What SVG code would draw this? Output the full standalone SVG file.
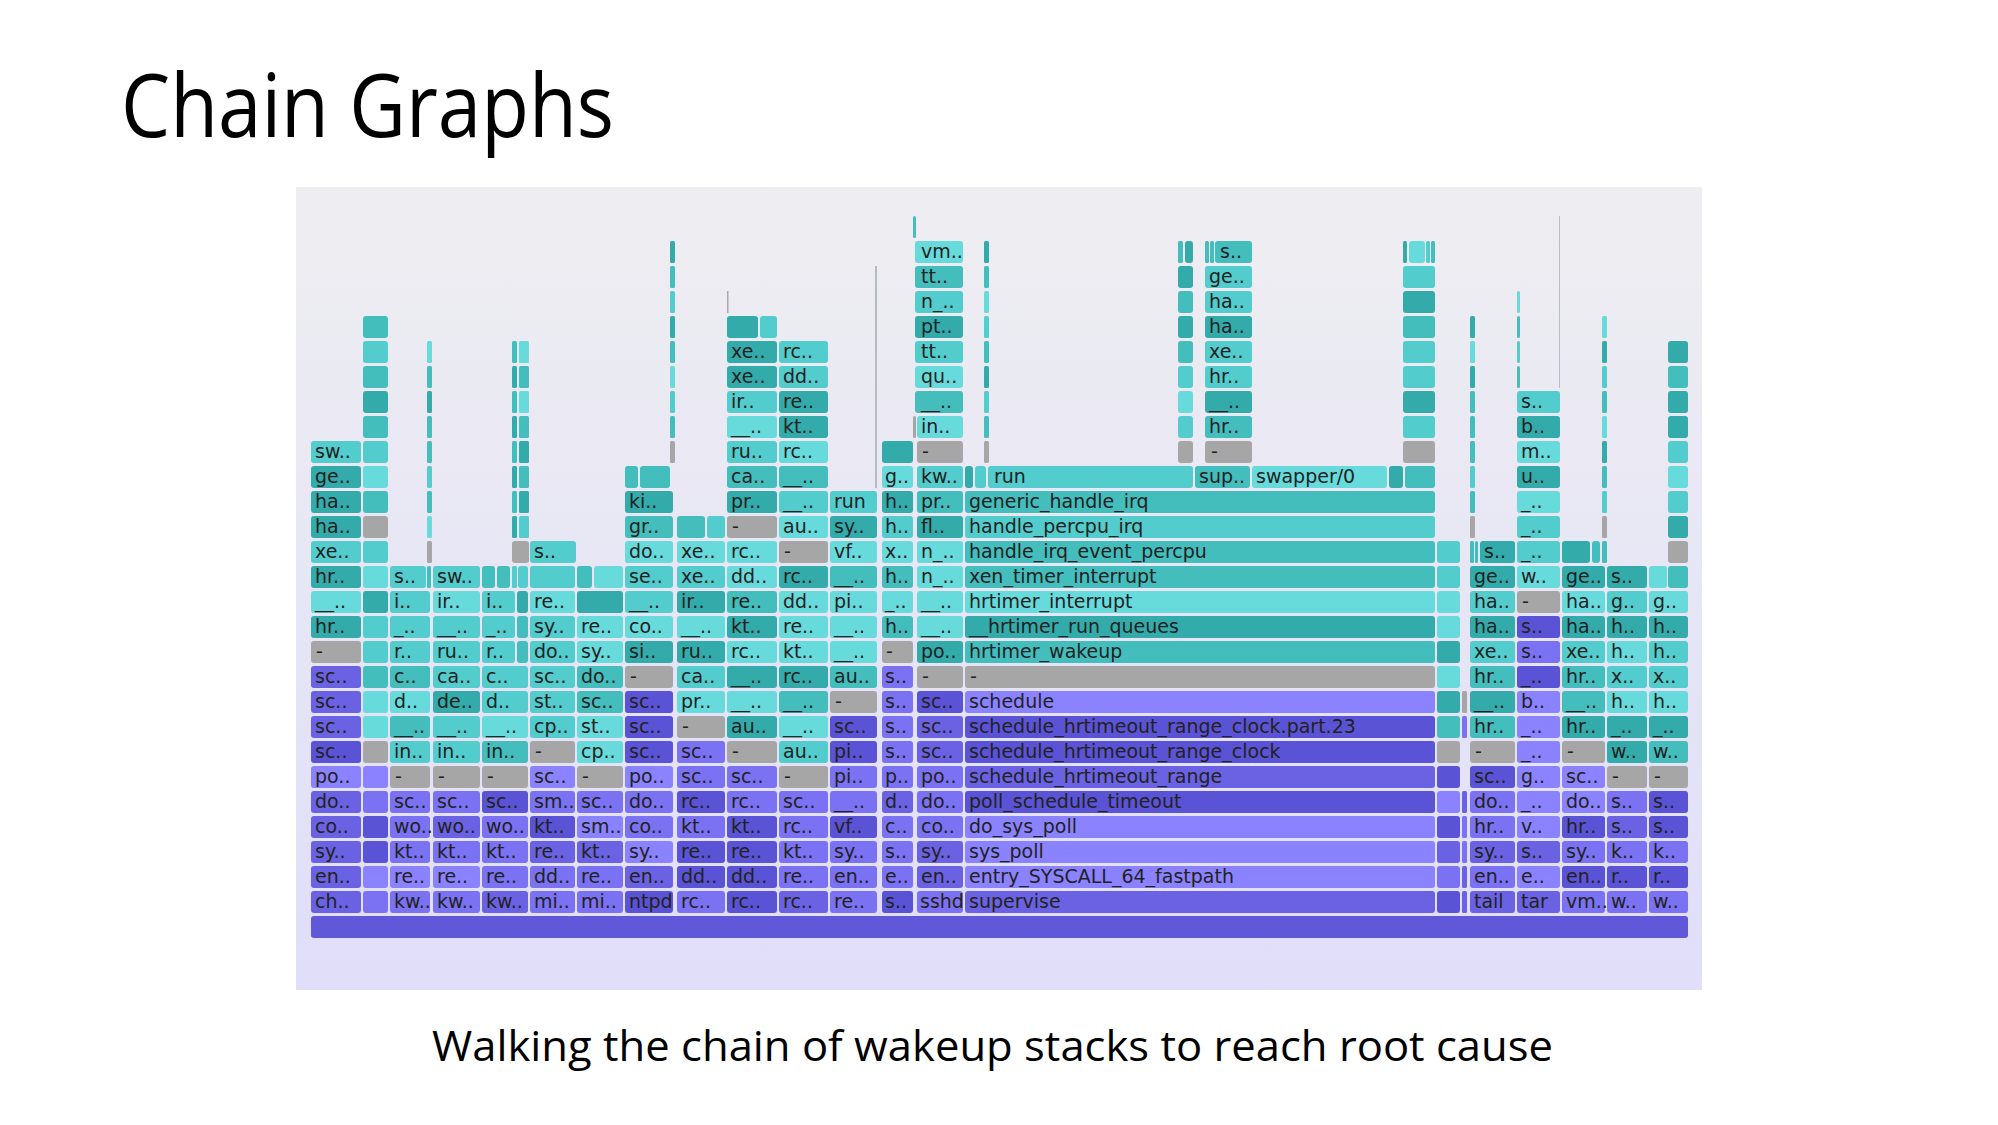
<svg xmlns="http://www.w3.org/2000/svg" width="1998" height="1125" viewBox="0 0 1998 1125">
<defs>
<linearGradient id="bg" x1="0" y1="0" x2="0" y2="1">
<stop offset="0" stop-color="#eeeef1"/>
<stop offset="1" stop-color="#e0def9"/>
</linearGradient>
</defs>
<style>
rect{rx:3px;ry:3px}
.a{fill:#67dbdb}.b{fill:#52cccc}.c{fill:#44bdbd}.d{fill:#33abab}.g{fill:#a6a6a6}
.p{fill:#8a82ff}.q{fill:#7a72f2}.r{fill:#6a62e2}.s{fill:#5b53d6}.z{fill:#6058d8}
.th{rx:1.5px;ry:1.5px}
text.t{font-family:"DejaVu Sans",Verdana,sans-serif;font-size:19px;fill:#222}
.title{font-family:"Open Sans","Liberation Sans",sans-serif;fill:#000}
</style>
<rect x="0" y="0" width="1998" height="1125" fill="#fff" style="rx:0"/>
<text class="title" x="121" y="137" font-size="88" textLength="493" lengthAdjust="spacingAndGlyphs">Chain Graphs</text>
<rect x="296" y="187" width="1406" height="803" fill="url(#bg)" style="rx:0"/>
<g id="flamegraph">
<g id="root"><rect class="z" x="311" y="916" width="1377" height="22"/></g>
<g id="col1">
<rect class="r" x="311" y="891" width="50" height="22"/><text class="t" x="315" y="907.5">ch..</text>
<rect class="r" x="311" y="866" width="50" height="22"/><text class="t" x="315" y="882.5">en..</text>
<rect class="r" x="311" y="841" width="50" height="22"/><text class="t" x="315" y="857.5">sy..</text>
<rect class="r" x="311" y="816" width="50" height="22"/><text class="t" x="315" y="832.5">co..</text>
<rect class="r" x="311" y="791" width="50" height="22"/><text class="t" x="315" y="807.5">do..</text>
<rect class="p" x="311" y="766" width="50" height="22"/><text class="t" x="315" y="782.5">po..</text>
<rect class="s" x="311" y="741" width="50" height="22"/><text class="t" x="315" y="757.5">sc..</text>
<rect class="r" x="311" y="716" width="50" height="22"/><text class="t" x="315" y="732.5">sc..</text>
<rect class="r" x="311" y="691" width="50" height="22"/><text class="t" x="315" y="707.5">sc..</text>
<rect class="r" x="311" y="666" width="50" height="22"/><text class="t" x="315" y="682.5">sc..</text>
<rect class="g" x="311" y="641" width="50" height="22"/><text class="t" x="316" y="657.5">-</text>
<rect class="d" x="311" y="616" width="50" height="22"/><text class="t" x="315" y="632.5">hr..</text>
<rect class="a" x="311" y="591" width="50" height="22"/><text class="t" x="315" y="607.5">__..</text>
<rect class="d" x="311" y="566" width="50" height="22"/><text class="t" x="315" y="582.5">hr..</text>
<rect class="b" x="311" y="541" width="50" height="22"/><text class="t" x="315" y="557.5">xe..</text>
<rect class="d" x="311" y="516" width="50" height="22"/><text class="t" x="315" y="532.5">ha..</text>
<rect class="d" x="311" y="491" width="50" height="22"/><text class="t" x="315" y="507.5">ha..</text>
<rect class="d" x="311" y="466" width="50" height="22"/><text class="t" x="315" y="482.5">ge..</text>
<rect class="b" x="311" y="441" width="50" height="22"/><text class="t" x="315" y="457.5">sw..</text>
</g>
<g id="col2">
<rect class="q" x="363" y="891" width="25" height="22"/><rect class="p" x="363" y="866" width="25" height="22"/>
<rect class="s" x="363" y="841" width="25" height="22"/><rect class="s" x="363" y="816" width="25" height="22"/>
<rect class="q" x="363" y="791" width="25" height="22"/><rect class="p" x="363" y="766" width="25" height="22"/>
<rect class="g" x="363" y="741" width="25" height="22"/><rect class="a" x="363" y="716" width="25" height="22"/>
<rect class="a" x="363" y="691" width="25" height="22"/><rect class="c" x="363" y="666" width="25" height="22"/>
<rect class="b" x="363" y="641" width="25" height="22"/><rect class="b" x="363" y="616" width="25" height="22"/>
<rect class="d" x="363" y="591" width="25" height="22"/><rect class="a" x="363" y="566" width="25" height="22"/>
<rect class="b" x="363" y="541" width="25" height="22"/><rect class="g" x="363" y="516" width="25" height="22"/>
<rect class="c" x="363" y="491" width="25" height="22"/><rect class="a" x="363" y="466" width="25" height="22"/>
<rect class="b" x="363" y="441" width="25" height="22"/><rect class="c" x="363" y="416" width="25" height="22"/>
<rect class="d" x="363" y="391" width="25" height="22"/><rect class="c" x="363" y="366" width="25" height="22"/>
<rect class="b" x="363" y="341" width="25" height="22"/><rect class="c" x="363" y="316" width="25" height="22"/>
</g>
<g id="col3">
<rect class="q" x="390" y="891" width="40" height="22"/><text class="t" x="394" y="907.5">kw..</text>
<rect class="p" x="390" y="866" width="40" height="22"/><text class="t" x="394" y="882.5">re..</text>
<rect class="q" x="390" y="841" width="40" height="22"/><text class="t" x="394" y="857.5">kt..</text>
<rect class="q" x="390" y="816" width="40" height="22"/><text class="t" x="394" y="832.5">wo..</text>
<rect class="q" x="390" y="791" width="40" height="22"/><text class="t" x="394" y="807.5">sc..</text>
<rect class="g" x="390" y="766" width="40" height="22"/><text class="t" x="395" y="782.5">-</text>
<rect class="b" x="390" y="741" width="40" height="22"/><text class="t" x="394" y="757.5">in..</text>
<rect class="c" x="390" y="716" width="40" height="22"/><text class="t" x="394" y="732.5">__..</text>
<rect class="a" x="390" y="691" width="40" height="22"/><text class="t" x="394" y="707.5">d..</text>
<rect class="c" x="390" y="666" width="40" height="22"/><text class="t" x="394" y="682.5">c..</text>
<rect class="b" x="390" y="641" width="40" height="22"/><text class="t" x="394" y="657.5">r..</text>
<rect class="b" x="390" y="616" width="40" height="22"/><text class="t" x="394" y="632.5">_..</text>
<rect class="b" x="390" y="591" width="40" height="22"/><text class="t" x="394" y="607.5">i..</text>
<rect class="b" x="390" y="566" width="36" height="22"/><text class="t" x="394" y="582.5">s..</text>
<rect class="c th" x="427" y="566" width="4" height="22"/>
<rect class="g th" x="427" y="541" width="5" height="22"/><rect class="a th" x="427" y="516" width="5" height="22"/>
<rect class="c th" x="427" y="491" width="5" height="22"/><rect class="b th" x="427" y="466" width="5" height="22"/>
<rect class="c th" x="427" y="441" width="5" height="22"/><rect class="c th" x="427" y="416" width="5" height="22"/>
<rect class="d th" x="427" y="391" width="5" height="22"/><rect class="c th" x="427" y="366" width="5" height="22"/>
<rect class="a th" x="427" y="341" width="5" height="22"/>
</g>
<g id="col4">
<rect class="q" x="433" y="891" width="47" height="22"/><text class="t" x="437" y="907.5">kw..</text>
<rect class="p" x="433" y="866" width="47" height="22"/><text class="t" x="437" y="882.5">re..</text>
<rect class="q" x="433" y="841" width="47" height="22"/><text class="t" x="437" y="857.5">kt..</text>
<rect class="r" x="433" y="816" width="47" height="22"/><text class="t" x="437" y="832.5">wo..</text>
<rect class="q" x="433" y="791" width="47" height="22"/><text class="t" x="437" y="807.5">sc..</text>
<rect class="g" x="433" y="766" width="47" height="22"/><text class="t" x="438" y="782.5">-</text>
<rect class="b" x="433" y="741" width="47" height="22"/><text class="t" x="437" y="757.5">in..</text>
<rect class="b" x="433" y="716" width="47" height="22"/><text class="t" x="437" y="732.5">__..</text>
<rect class="d" x="433" y="691" width="47" height="22"/><text class="t" x="437" y="707.5">de..</text>
<rect class="b" x="433" y="666" width="47" height="22"/><text class="t" x="437" y="682.5">ca..</text>
<rect class="b" x="433" y="641" width="47" height="22"/><text class="t" x="437" y="657.5">ru..</text>
<rect class="b" x="433" y="616" width="47" height="22"/><text class="t" x="437" y="632.5">__..</text>
<rect class="a" x="433" y="591" width="47" height="22"/><text class="t" x="437" y="607.5">ir..</text>
<rect class="b" x="433" y="566" width="47" height="22"/><text class="t" x="437" y="582.5">sw..</text>
</g>
<g id="col5">
<rect class="r" x="482" y="891" width="46" height="22"/><text class="t" x="486" y="907.5">kw..</text>
<rect class="q" x="482" y="866" width="46" height="22"/><text class="t" x="486" y="882.5">re..</text>
<rect class="q" x="482" y="841" width="46" height="22"/><text class="t" x="486" y="857.5">kt..</text>
<rect class="q" x="482" y="816" width="46" height="22"/><text class="t" x="486" y="832.5">wo..</text>
<rect class="s" x="482" y="791" width="46" height="22"/><text class="t" x="486" y="807.5">sc..</text>
<rect class="g" x="482" y="766" width="46" height="22"/><text class="t" x="487" y="782.5">-</text>
<rect class="c" x="482" y="741" width="46" height="22"/><text class="t" x="486" y="757.5">in..</text>
<rect class="a" x="482" y="716" width="46" height="22"/><text class="t" x="486" y="732.5">__..</text>
<rect class="b" x="482" y="691" width="46" height="22"/><text class="t" x="486" y="707.5">d..</text>
<rect class="b" x="482" y="666" width="46" height="22"/><text class="t" x="486" y="682.5">c..</text>
<rect class="b" x="482" y="641" width="33" height="22"/><text class="t" x="486" y="657.5">r..</text><rect class="c" x="517" y="641" width="11" height="22"/>
<rect class="b" x="482" y="616" width="33" height="22"/><text class="t" x="486" y="632.5">_..</text><rect class="c" x="517" y="616" width="11" height="22"/>
<rect class="b" x="482" y="591" width="33" height="22"/><text class="t" x="486" y="607.5">i..</text><rect class="d" x="517" y="591" width="11" height="22"/>
<rect class="c" x="482" y="566" width="13" height="22"/><rect class="c" x="497" y="566" width="13" height="22"/>
<rect class="b th" x="512" y="566" width="5" height="22"/><rect class="b" x="518" y="566" width="10" height="22"/>
<rect class="g" x="512" y="541" width="17" height="22"/>
<rect class="d th" x="512" y="516" width="5" height="22"/><rect class="b th" x="519" y="516" width="10" height="22"/>
<rect class="c th" x="512" y="491" width="5" height="22"/><rect class="d th" x="519" y="491" width="10" height="22"/>
<rect class="d th" x="512" y="466" width="5" height="22"/><rect class="c th" x="519" y="466" width="10" height="22"/>
<rect class="c th" x="512" y="441" width="5" height="22"/><rect class="d th" x="519" y="441" width="10" height="22"/>
<rect class="d th" x="512" y="416" width="5" height="22"/><rect class="c th" x="519" y="416" width="10" height="22"/>
<rect class="c th" x="512" y="391" width="5" height="22"/><rect class="a th" x="519" y="391" width="10" height="22"/>
<rect class="d th" x="512" y="366" width="5" height="22"/><rect class="c th" x="519" y="366" width="10" height="22"/>
<rect class="c th" x="512" y="341" width="5" height="22"/><rect class="a th" x="519" y="341" width="10" height="22"/>
</g>
<g id="col6">
<rect class="q" x="530" y="891" width="45" height="22"/><text class="t" x="534" y="907.5">mi..</text>
<rect class="q" x="530" y="866" width="45" height="22"/><text class="t" x="534" y="882.5">dd..</text>
<rect class="r" x="530" y="841" width="45" height="22"/><text class="t" x="534" y="857.5">re..</text>
<rect class="s" x="530" y="816" width="45" height="22"/><text class="t" x="534" y="832.5">kt..</text>
<rect class="q" x="530" y="791" width="45" height="22"/><text class="t" x="534" y="807.5">sm..</text>
<rect class="p" x="530" y="766" width="45" height="22"/><text class="t" x="534" y="782.5">sc..</text>
<rect class="g" x="530" y="741" width="45" height="22"/><text class="t" x="535" y="757.5">-</text>
<rect class="b" x="530" y="716" width="45" height="22"/><text class="t" x="534" y="732.5">cp..</text>
<rect class="b" x="530" y="691" width="45" height="22"/><text class="t" x="534" y="707.5">st..</text>
<rect class="b" x="530" y="666" width="45" height="22"/><text class="t" x="534" y="682.5">sc..</text>
<rect class="b" x="530" y="641" width="45" height="22"/><text class="t" x="534" y="657.5">do..</text>
<rect class="b" x="530" y="616" width="45" height="22"/><text class="t" x="534" y="632.5">sy..</text>
<rect class="a" x="530" y="591" width="45" height="22"/><text class="t" x="534" y="607.5">re..</text>
<rect class="b" x="530" y="566" width="45" height="22"/>
<rect class="b" x="530" y="541" width="46" height="22"/><text class="t" x="534" y="557.5">s..</text>
</g>
<g id="col7">
<rect class="q" x="577" y="891" width="46" height="22"/><text class="t" x="581" y="907.5">mi..</text>
<rect class="q" x="577" y="866" width="46" height="22"/><text class="t" x="581" y="882.5">re..</text>
<rect class="r" x="577" y="841" width="46" height="22"/><text class="t" x="581" y="857.5">kt..</text>
<rect class="p" x="577" y="816" width="46" height="22"/><text class="t" x="581" y="832.5">sm..</text>
<rect class="q" x="577" y="791" width="46" height="22"/><text class="t" x="581" y="807.5">sc..</text>
<rect class="g" x="577" y="766" width="46" height="22"/><text class="t" x="582" y="782.5">-</text>
<rect class="a" x="577" y="741" width="46" height="22"/><text class="t" x="581" y="757.5">cp..</text>
<rect class="a" x="577" y="716" width="46" height="22"/><text class="t" x="581" y="732.5">st..</text>
<rect class="c" x="577" y="691" width="46" height="22"/><text class="t" x="581" y="707.5">sc..</text>
<rect class="c" x="577" y="666" width="46" height="22"/><text class="t" x="581" y="682.5">do..</text>
<rect class="a" x="577" y="641" width="46" height="22"/><text class="t" x="581" y="657.5">sy..</text>
<rect class="a" x="577" y="616" width="46" height="22"/><text class="t" x="581" y="632.5">re..</text>
<rect class="d" x="577" y="591" width="46" height="22"/>
<rect class="c" x="577" y="566" width="15" height="22"/><rect class="a" x="594" y="566" width="29" height="22"/>
</g>
<g id="col8">
<rect class="s" x="625" y="891" width="48" height="22"/><text class="t" x="629" y="907.5">ntpd</text>
<rect class="r" x="625" y="866" width="48" height="22"/><text class="t" x="629" y="882.5">en..</text>
<rect class="p" x="625" y="841" width="48" height="22"/><text class="t" x="629" y="857.5">sy..</text>
<rect class="q" x="625" y="816" width="48" height="22"/><text class="t" x="629" y="832.5">co..</text>
<rect class="q" x="625" y="791" width="48" height="22"/><text class="t" x="629" y="807.5">do..</text>
<rect class="p" x="625" y="766" width="48" height="22"/><text class="t" x="629" y="782.5">po..</text>
<rect class="s" x="625" y="741" width="48" height="22"/><text class="t" x="629" y="757.5">sc..</text>
<rect class="s" x="625" y="716" width="48" height="22"/><text class="t" x="629" y="732.5">sc..</text>
<rect class="s" x="625" y="691" width="48" height="22"/><text class="t" x="629" y="707.5">sc..</text>
<rect class="g" x="625" y="666" width="48" height="22"/><text class="t" x="630" y="682.5">-</text>
<rect class="d" x="625" y="641" width="48" height="22"/><text class="t" x="629" y="657.5">si..</text>
<rect class="a" x="625" y="616" width="48" height="22"/><text class="t" x="629" y="632.5">co..</text>
<rect class="b" x="625" y="591" width="48" height="22"/><text class="t" x="629" y="607.5">__..</text>
<rect class="b" x="625" y="566" width="48" height="22"/><text class="t" x="629" y="582.5">se..</text>
<rect class="a" x="625" y="541" width="48" height="22"/><text class="t" x="629" y="557.5">do..</text>
<rect class="c" x="625" y="516" width="48" height="22"/><text class="t" x="629" y="532.5">gr..</text>
<rect class="d" x="625" y="491" width="48" height="22"/><text class="t" x="629" y="507.5">ki..</text>
<rect class="c" x="625" y="466" width="13" height="22"/><rect class="c" x="640" y="466" width="30" height="22"/>
<rect class="g th" x="670" y="441" width="5" height="22"/><rect class="c th" x="670" y="416" width="5" height="22"/>
<rect class="b th" x="670" y="391" width="5" height="22"/><rect class="a th" x="670" y="366" width="5" height="22"/>
<rect class="c th" x="670" y="341" width="5" height="22"/><rect class="d th" x="670" y="316" width="5" height="22"/>
<rect class="b th" x="670" y="291" width="5" height="22"/><rect class="c th" x="670" y="266" width="5" height="22"/>
<rect class="d th" x="670" y="241" width="5" height="22"/>
</g>
<g id="col9">
<rect class="q" x="677" y="891" width="48" height="22"/><text class="t" x="681" y="907.5">rc..</text>
<rect class="s" x="677" y="866" width="48" height="22"/><text class="t" x="681" y="882.5">dd..</text>
<rect class="s" x="677" y="841" width="48" height="22"/><text class="t" x="681" y="857.5">re..</text>
<rect class="q" x="677" y="816" width="48" height="22"/><text class="t" x="681" y="832.5">kt..</text>
<rect class="s" x="677" y="791" width="48" height="22"/><text class="t" x="681" y="807.5">rc..</text>
<rect class="q" x="677" y="766" width="48" height="22"/><text class="t" x="681" y="782.5">sc..</text>
<rect class="q" x="677" y="741" width="48" height="22"/><text class="t" x="681" y="757.5">sc..</text>
<rect class="g" x="677" y="716" width="48" height="22"/><text class="t" x="682" y="732.5">-</text>
<rect class="a" x="677" y="691" width="48" height="22"/><text class="t" x="681" y="707.5">pr..</text>
<rect class="b" x="677" y="666" width="48" height="22"/><text class="t" x="681" y="682.5">ca..</text>
<rect class="d" x="677" y="641" width="48" height="22"/><text class="t" x="681" y="657.5">ru..</text>
<rect class="a" x="677" y="616" width="48" height="22"/><text class="t" x="681" y="632.5">__..</text>
<rect class="d" x="677" y="591" width="48" height="22"/><text class="t" x="681" y="607.5">ir..</text>
<rect class="b" x="677" y="566" width="48" height="22"/><text class="t" x="681" y="582.5">xe..</text>
<rect class="a" x="677" y="541" width="48" height="22"/><text class="t" x="681" y="557.5">xe..</text>
<rect class="c" x="677" y="516" width="28" height="22"/><rect class="b" x="707" y="516" width="18" height="22"/>
</g>
<g id="col10">
<rect class="s" x="727" y="891" width="50" height="22"/><text class="t" x="731" y="907.5">rc..</text>
<rect class="s" x="727" y="866" width="50" height="22"/><text class="t" x="731" y="882.5">dd..</text>
<rect class="s" x="727" y="841" width="50" height="22"/><text class="t" x="731" y="857.5">re..</text>
<rect class="s" x="727" y="816" width="50" height="22"/><text class="t" x="731" y="832.5">kt..</text>
<rect class="q" x="727" y="791" width="50" height="22"/><text class="t" x="731" y="807.5">rc..</text>
<rect class="q" x="727" y="766" width="50" height="22"/><text class="t" x="731" y="782.5">sc..</text>
<rect class="g" x="727" y="741" width="50" height="22"/><text class="t" x="732" y="757.5">-</text>
<rect class="d" x="727" y="716" width="50" height="22"/><text class="t" x="731" y="732.5">au..</text>
<rect class="a" x="727" y="691" width="50" height="22"/><text class="t" x="731" y="707.5">__..</text>
<rect class="d" x="727" y="666" width="50" height="22"/><text class="t" x="731" y="682.5">__..</text>
<rect class="a" x="727" y="641" width="50" height="22"/><text class="t" x="731" y="657.5">rc..</text>
<rect class="d" x="727" y="616" width="50" height="22"/><text class="t" x="731" y="632.5">kt..</text>
<rect class="c" x="727" y="591" width="50" height="22"/><text class="t" x="731" y="607.5">re..</text>
<rect class="a" x="727" y="566" width="50" height="22"/><text class="t" x="731" y="582.5">dd..</text>
<rect class="a" x="727" y="541" width="50" height="22"/><text class="t" x="731" y="557.5">rc..</text>
<rect class="g" x="727" y="516" width="50" height="22"/><text class="t" x="732" y="532.5">-</text>
<rect class="d" x="727" y="491" width="50" height="22"/><text class="t" x="731" y="507.5">pr..</text>
<rect class="c" x="727" y="466" width="50" height="22"/><text class="t" x="731" y="482.5">ca..</text>
<rect class="b" x="727" y="441" width="50" height="22"/><text class="t" x="731" y="457.5">ru..</text>
<rect class="a" x="727" y="416" width="50" height="22"/><text class="t" x="731" y="432.5">__..</text>
<rect class="b" x="727" y="391" width="50" height="22"/><text class="t" x="731" y="407.5">ir..</text>
<rect class="d" x="727" y="366" width="50" height="22"/><text class="t" x="731" y="382.5">xe..</text>
<rect class="d" x="727" y="341" width="50" height="22"/><text class="t" x="731" y="357.5">xe..</text>
<rect class="d" x="727" y="316" width="31" height="22"/><rect class="b" x="760" y="316" width="17" height="22"/>
<rect x="727" y="291" width="1.5" height="22" fill="#a8aaae" style="rx:0"/>
</g>
<g id="col11">
<rect class="r" x="779" y="891" width="49" height="22"/><text class="t" x="783" y="907.5">rc..</text>
<rect class="q" x="779" y="866" width="49" height="22"/><text class="t" x="783" y="882.5">re..</text>
<rect class="q" x="779" y="841" width="49" height="22"/><text class="t" x="783" y="857.5">kt..</text>
<rect class="q" x="779" y="816" width="49" height="22"/><text class="t" x="783" y="832.5">rc..</text>
<rect class="q" x="779" y="791" width="49" height="22"/><text class="t" x="783" y="807.5">sc..</text>
<rect class="g" x="779" y="766" width="49" height="22"/><text class="t" x="784" y="782.5">-</text>
<rect class="b" x="779" y="741" width="49" height="22"/><text class="t" x="783" y="757.5">au..</text>
<rect class="a" x="779" y="716" width="49" height="22"/><text class="t" x="783" y="732.5">__..</text>
<rect class="c" x="779" y="691" width="49" height="22"/><text class="t" x="783" y="707.5">__..</text>
<rect class="d" x="779" y="666" width="49" height="22"/><text class="t" x="783" y="682.5">rc..</text>
<rect class="a" x="779" y="641" width="49" height="22"/><text class="t" x="783" y="657.5">kt..</text>
<rect class="a" x="779" y="616" width="49" height="22"/><text class="t" x="783" y="632.5">re..</text>
<rect class="a" x="779" y="591" width="49" height="22"/><text class="t" x="783" y="607.5">dd..</text>
<rect class="d" x="779" y="566" width="49" height="22"/><text class="t" x="783" y="582.5">rc..</text>
<rect class="g" x="779" y="541" width="49" height="22"/><text class="t" x="784" y="557.5">-</text>
<rect class="a" x="779" y="516" width="49" height="22"/><text class="t" x="783" y="532.5">au..</text>
<rect class="b" x="779" y="491" width="49" height="22"/><text class="t" x="783" y="507.5">__..</text>
<rect class="c" x="779" y="466" width="49" height="22"/><text class="t" x="783" y="482.5">__..</text>
<rect class="a" x="779" y="441" width="49" height="22"/><text class="t" x="783" y="457.5">rc..</text>
<rect class="d" x="779" y="416" width="49" height="22"/><text class="t" x="783" y="432.5">kt..</text>
<rect class="d" x="779" y="391" width="49" height="22"/><text class="t" x="783" y="407.5">re..</text>
<rect class="b" x="779" y="366" width="49" height="22"/><text class="t" x="783" y="382.5">dd..</text>
<rect class="b" x="779" y="341" width="49" height="22"/><text class="t" x="783" y="357.5">rc..</text>
</g>
<g id="col12">
<rect class="q" x="830" y="891" width="47" height="22"/><text class="t" x="834" y="907.5">re..</text>
<rect class="q" x="830" y="866" width="47" height="22"/><text class="t" x="834" y="882.5">en..</text>
<rect class="q" x="830" y="841" width="47" height="22"/><text class="t" x="834" y="857.5">sy..</text>
<rect class="s" x="830" y="816" width="47" height="22"/><text class="t" x="834" y="832.5">vf..</text>
<rect class="q" x="830" y="791" width="47" height="22"/><text class="t" x="834" y="807.5">__..</text>
<rect class="q" x="830" y="766" width="47" height="22"/><text class="t" x="834" y="782.5">pi..</text>
<rect class="s" x="830" y="741" width="47" height="22"/><text class="t" x="834" y="757.5">pi..</text>
<rect class="s" x="830" y="716" width="47" height="22"/><text class="t" x="834" y="732.5">sc..</text>
<rect class="g" x="830" y="691" width="47" height="22"/><text class="t" x="835" y="707.5">-</text>
<rect class="c" x="830" y="666" width="47" height="22"/><text class="t" x="834" y="682.5">au..</text>
<rect class="a" x="830" y="641" width="47" height="22"/><text class="t" x="834" y="657.5">__..</text>
<rect class="a" x="830" y="616" width="47" height="22"/><text class="t" x="834" y="632.5">__..</text>
<rect class="a" x="830" y="591" width="47" height="22"/><text class="t" x="834" y="607.5">pi..</text>
<rect class="c" x="830" y="566" width="47" height="22"/><text class="t" x="834" y="582.5">__..</text>
<rect class="a" x="830" y="541" width="47" height="22"/><text class="t" x="834" y="557.5">vf..</text>
<rect class="d" x="830" y="516" width="47" height="22"/><text class="t" x="834" y="532.5">sy..</text>
<rect class="b" x="830" y="491" width="47" height="22"/><text class="t" x="834" y="507.5">run</text>
<rect x="875" y="266" width="2" height="222" fill="#b4bcbe" style="rx:0"/>
</g>
<g id="col13">
<rect class="s" x="882" y="891" width="31" height="22"/><text class="t" x="885" y="907.5">s..</text>
<rect class="q" x="882" y="866" width="31" height="22"/><text class="t" x="885" y="882.5">e..</text>
<rect class="q" x="882" y="841" width="31" height="22"/><text class="t" x="885" y="857.5">s..</text>
<rect class="q" x="882" y="816" width="31" height="22"/><text class="t" x="885" y="832.5">c..</text>
<rect class="r" x="882" y="791" width="31" height="22"/><text class="t" x="885" y="807.5">d..</text>
<rect class="q" x="882" y="766" width="31" height="22"/><text class="t" x="885" y="782.5">p..</text>
<rect class="q" x="882" y="741" width="31" height="22"/><text class="t" x="885" y="757.5">s..</text>
<rect class="q" x="882" y="716" width="31" height="22"/><text class="t" x="885" y="732.5">s..</text>
<rect class="q" x="882" y="691" width="31" height="22"/><text class="t" x="885" y="707.5">s..</text>
<rect class="q" x="882" y="666" width="31" height="22"/><text class="t" x="885" y="682.5">s..</text>
<rect class="g" x="882" y="641" width="31" height="22"/><text class="t" x="886" y="657.5">-</text>
<rect class="c" x="882" y="616" width="31" height="22"/><text class="t" x="885" y="632.5">h..</text>
<rect class="a" x="882" y="591" width="31" height="22"/><text class="t" x="885" y="607.5">_..</text>
<rect class="c" x="882" y="566" width="31" height="22"/><text class="t" x="885" y="582.5">h..</text>
<rect class="a" x="882" y="541" width="31" height="22"/><text class="t" x="885" y="557.5">x..</text>
<rect class="b" x="882" y="516" width="31" height="22"/><text class="t" x="885" y="532.5">h..</text>
<rect class="d" x="882" y="491" width="31" height="22"/><text class="t" x="885" y="507.5">h..</text>
<rect class="a" x="882" y="466" width="31" height="22"/><text class="t" x="885" y="482.5">g..</text>
<rect class="d" x="882" y="441" width="31" height="22"/>
</g>
<g id="col14">
<rect class="q" x="917" y="891" width="46" height="22"/><text class="t" x="920" y="907.5">sshd</text>
<rect class="r" x="917" y="866" width="46" height="22"/><text class="t" x="921" y="882.5">en..</text>
<rect class="r" x="917" y="841" width="46" height="22"/><text class="t" x="921" y="857.5">sy..</text>
<rect class="q" x="917" y="816" width="46" height="22"/><text class="t" x="921" y="832.5">co..</text>
<rect class="q" x="917" y="791" width="46" height="22"/><text class="t" x="921" y="807.5">do..</text>
<rect class="q" x="917" y="766" width="46" height="22"/><text class="t" x="921" y="782.5">po..</text>
<rect class="r" x="917" y="741" width="46" height="22"/><text class="t" x="921" y="757.5">sc..</text>
<rect class="r" x="917" y="716" width="46" height="22"/><text class="t" x="921" y="732.5">sc..</text>
<rect class="s" x="917" y="691" width="46" height="22"/><text class="t" x="921" y="707.5">sc..</text>
<rect class="g" x="917" y="666" width="46" height="22"/><text class="t" x="922" y="682.5">-</text>
<rect class="d" x="917" y="641" width="46" height="22"/><text class="t" x="921" y="657.5">po..</text>
<rect class="a" x="917" y="616" width="46" height="22"/><text class="t" x="921" y="632.5">__..</text>
<rect class="a" x="917" y="591" width="46" height="22"/><text class="t" x="921" y="607.5">__..</text>
<rect class="a" x="917" y="566" width="46" height="22"/><text class="t" x="921" y="582.5">n_..</text>
<rect class="a" x="917" y="541" width="46" height="22"/><text class="t" x="921" y="557.5">n_..</text>
<rect class="d" x="917" y="516" width="46" height="22"/><text class="t" x="921" y="532.5">fl..</text>
<rect class="c" x="917" y="491" width="46" height="22"/><text class="t" x="921" y="507.5">pr..</text>
<rect class="b" x="917" y="466" width="46" height="22"/><text class="t" x="921" y="482.5">kw..</text>
<rect class="g" x="917" y="441" width="46" height="22"/><text class="t" x="922" y="457.5">-</text>
<rect class="g th" x="913" y="416" width="3" height="22"/>
<rect class="a" x="917" y="416" width="46" height="22"/><text class="t" x="921" y="432.5">in..</text>
<rect class="c" x="915" y="391" width="48" height="22"/><text class="t" x="921" y="407.5">__..</text>
<rect class="a" x="915" y="366" width="48" height="22"/><text class="t" x="921" y="382.5">qu..</text>
<rect class="b" x="915" y="341" width="48" height="22"/><text class="t" x="921" y="357.5">tt..</text>
<rect class="d" x="915" y="316" width="48" height="22"/><text class="t" x="921" y="332.5">pt..</text>
<rect class="b" x="915" y="291" width="48" height="22"/><text class="t" x="921" y="307.5">n_..</text>
<rect class="c" x="915" y="266" width="48" height="22"/><text class="t" x="921" y="282.5">tt..</text>
<rect class="a" x="915" y="241" width="48" height="22"/><text class="t" x="921" y="257.5">vm..</text>
<rect class="c th" x="913" y="216" width="3" height="22"/>
</g>
<g id="main">
<rect class="r" x="965" y="891" width="470" height="22"/><text class="t" x="969" y="907.5">supervise</text>
<rect class="p" x="965" y="866" width="470" height="22"/><text class="t" x="969" y="882.5">entry_SYSCALL_64_fastpath</text>
<rect class="p" x="965" y="841" width="470" height="22"/><text class="t" x="969" y="857.5">sys_poll</text>
<rect class="p" x="965" y="816" width="470" height="22"/><text class="t" x="969" y="832.5">do_sys_poll</text>
<rect class="s" x="965" y="791" width="470" height="22"/><text class="t" x="969" y="807.5">poll_schedule_timeout</text>
<rect class="r" x="965" y="766" width="470" height="22"/><text class="t" x="969" y="782.5">schedule_hrtimeout_range</text>
<rect class="s" x="965" y="741" width="470" height="22"/><text class="t" x="969" y="757.5">schedule_hrtimeout_range_clock</text>
<rect class="s" x="965" y="716" width="470" height="22"/><text class="t" x="969" y="732.5">schedule_hrtimeout_range_clock.part.23</text>
<rect class="p" x="965" y="691" width="470" height="22"/><text class="t" x="969" y="707.5">schedule</text>
<rect class="g" x="965" y="666" width="470" height="22"/><text class="t" x="970" y="682.5">-</text>
<rect class="c" x="965" y="641" width="470" height="22"/><text class="t" x="969" y="657.5">hrtimer_wakeup</text>
<rect class="d" x="965" y="616" width="470" height="22"/><text class="t" x="969" y="632.5">__hrtimer_run_queues</text>
<rect class="a" x="965" y="591" width="470" height="22"/><text class="t" x="969" y="607.5">hrtimer_interrupt</text>
<rect class="c" x="965" y="566" width="470" height="22"/><text class="t" x="969" y="582.5">xen_timer_interrupt</text>
<rect class="c" x="965" y="541" width="470" height="22"/><text class="t" x="969" y="557.5">handle_irq_event_percpu</text>
<rect class="b" x="965" y="516" width="470" height="22"/><text class="t" x="969" y="532.5">handle_percpu_irq</text>
<rect class="c" x="965" y="491" width="470" height="22"/><text class="t" x="969" y="507.5">generic_handle_irq</text>
<rect class="d" x="965" y="466" width="8" height="22"/><rect class="b" x="975" y="466" width="11" height="22"/>
<rect class="b" x="988" y="466" width="205" height="22"/><text class="t" x="994" y="482.5">run</text>
<rect class="c" x="1195" y="466" width="55" height="22"/><text class="t" x="1199" y="482.5">sup..</text>
<rect class="a" x="1252" y="466" width="135" height="22"/><text class="t" x="1256" y="482.5">swapper/0</text>
<rect class="d" x="1389" y="466" width="14" height="22"/><rect class="c" x="1405" y="466" width="30" height="22"/>
<rect class="g th" x="984" y="441" width="5" height="22"/><rect class="c th" x="984" y="416" width="5" height="22"/>
<rect class="b th" x="984" y="391" width="5" height="22"/><rect class="d th" x="984" y="366" width="5" height="22"/>
<rect class="c th" x="984" y="341" width="5" height="22"/><rect class="b th" x="984" y="316" width="5" height="22"/>
<rect class="a th" x="984" y="291" width="5" height="22"/><rect class="c th" x="984" y="266" width="5" height="22"/>
<rect class="d th" x="984" y="241" width="5" height="22"/>
<rect class="g" x="1178" y="441" width="15" height="22"/><rect class="b" x="1178" y="416" width="15" height="22"/>
<rect class="a" x="1178" y="391" width="15" height="22"/><rect class="b" x="1178" y="366" width="15" height="22"/>
<rect class="c" x="1178" y="341" width="15" height="22"/><rect class="d" x="1178" y="316" width="15" height="22"/>
<rect class="c" x="1178" y="291" width="15" height="22"/><rect class="d" x="1178" y="266" width="15" height="22"/>
<rect class="c th" x="1178" y="241" width="5" height="22"/><rect class="d" x="1185" y="241" width="8" height="22"/>
<rect class="g" x="1205" y="441" width="47" height="22"/><text class="t" x="1211" y="457.5">-</text>
<rect class="c" x="1205" y="416" width="47" height="22"/><text class="t" x="1209" y="432.5">hr..</text>
<rect class="d" x="1205" y="391" width="47" height="22"/><text class="t" x="1209" y="407.5">__..</text>
<rect class="b" x="1205" y="366" width="47" height="22"/><text class="t" x="1209" y="382.5">hr..</text>
<rect class="b" x="1205" y="341" width="47" height="22"/><text class="t" x="1209" y="357.5">xe..</text>
<rect class="d" x="1205" y="316" width="47" height="22"/><text class="t" x="1209" y="332.5">ha..</text>
<rect class="b" x="1205" y="291" width="47" height="22"/><text class="t" x="1209" y="307.5">ha..</text>
<rect class="b" x="1205" y="266" width="47" height="22"/><text class="t" x="1209" y="282.5">ge..</text>
<rect class="c th" x="1205" y="241" width="4" height="22"/><rect class="c th" x="1210" y="241" width="4" height="22"/>
<rect class="c" x="1215" y="241" width="37" height="22"/><text class="t" x="1220" y="257.5">s..</text>
<rect class="g" x="1403" y="441" width="32" height="22"/><rect class="b" x="1403" y="416" width="32" height="22"/>
<rect class="d" x="1403" y="391" width="32" height="22"/><rect class="b" x="1403" y="366" width="32" height="22"/>
<rect class="b" x="1403" y="341" width="32" height="22"/><rect class="c" x="1403" y="316" width="32" height="22"/>
<rect class="d" x="1403" y="291" width="32" height="22"/><rect class="b" x="1403" y="266" width="32" height="22"/>
<rect class="d th" x="1403" y="241" width="4" height="22"/><rect class="a" x="1409" y="241" width="16" height="22"/>
<rect class="b th" x="1426" y="241" width="4" height="22"/><rect class="c th" x="1431" y="241" width="4" height="22"/>
</g>
<g id="col16">
<rect class="s" x="1437" y="891" width="23" height="22"/><rect class="q" x="1437" y="866" width="23" height="22"/>
<rect class="r" x="1437" y="841" width="23" height="22"/><rect class="s" x="1437" y="816" width="23" height="22"/>
<rect class="p" x="1437" y="791" width="23" height="22"/><rect class="s" x="1437" y="766" width="23" height="22"/>
<rect class="g" x="1437" y="741" width="23" height="22"/><rect class="c" x="1437" y="716" width="23" height="22"/>
<rect class="d" x="1437" y="691" width="23" height="22"/><rect class="a" x="1437" y="666" width="23" height="22"/>
<rect class="d" x="1437" y="641" width="23" height="22"/><rect class="a" x="1437" y="616" width="23" height="22"/>
<rect class="a" x="1437" y="591" width="23" height="22"/><rect class="b" x="1437" y="566" width="23" height="22"/>
<rect class="b" x="1437" y="541" width="23" height="22"/>
<rect class="r th" x="1462" y="891" width="5" height="22"/><rect class="r th" x="1462" y="866" width="5" height="22"/>
<rect class="q th" x="1462" y="841" width="5" height="22"/><rect class="q th" x="1462" y="816" width="5" height="22"/>
<rect class="r th" x="1462" y="791" width="5" height="22"/><rect class="q th" x="1462" y="716" width="5" height="22"/>
<rect class="g th" x="1462" y="691" width="5" height="22"/>
</g>
<g id="colA">
<rect class="r" x="1470" y="891" width="45" height="22"/><text class="t" x="1474" y="907.5">tail</text>
<rect class="q" x="1470" y="866" width="45" height="22"/><text class="t" x="1474" y="882.5">en..</text>
<rect class="r" x="1470" y="841" width="45" height="22"/><text class="t" x="1474" y="857.5">sy..</text>
<rect class="q" x="1470" y="816" width="45" height="22"/><text class="t" x="1474" y="832.5">hr..</text>
<rect class="q" x="1470" y="791" width="45" height="22"/><text class="t" x="1474" y="807.5">do..</text>
<rect class="s" x="1470" y="766" width="45" height="22"/><text class="t" x="1474" y="782.5">sc..</text>
<rect class="g" x="1470" y="741" width="45" height="22"/><text class="t" x="1475" y="757.5">-</text>
<rect class="c" x="1470" y="716" width="45" height="22"/><text class="t" x="1474" y="732.5">hr..</text>
<rect class="d" x="1470" y="691" width="45" height="22"/><text class="t" x="1474" y="707.5">__..</text>
<rect class="c" x="1470" y="666" width="45" height="22"/><text class="t" x="1474" y="682.5">hr..</text>
<rect class="b" x="1470" y="641" width="45" height="22"/><text class="t" x="1474" y="657.5">xe..</text>
<rect class="d" x="1470" y="616" width="45" height="22"/><text class="t" x="1474" y="632.5">ha..</text>
<rect class="b" x="1470" y="591" width="45" height="22"/><text class="t" x="1474" y="607.5">ha..</text>
<rect class="d" x="1470" y="566" width="45" height="22"/><text class="t" x="1474" y="582.5">ge..</text>
<rect class="c th" x="1470" y="541" width="4" height="22"/><rect class="c th" x="1475" y="541" width="3" height="22"/>
<rect class="d" x="1480" y="541" width="35" height="22"/><text class="t" x="1484" y="557.5">s..</text>
<rect class="g th" x="1470" y="516" width="5" height="22"/><rect class="c th" x="1470" y="491" width="5" height="22"/>
<rect class="b th" x="1470" y="466" width="5" height="22"/><rect class="c th" x="1470" y="441" width="5" height="22"/>
<rect class="c th" x="1470" y="416" width="5" height="22"/><rect class="c th" x="1470" y="391" width="5" height="22"/>
<rect class="d th" x="1470" y="366" width="5" height="22"/><rect class="a th" x="1470" y="341" width="5" height="22"/>
<rect class="d th" x="1470" y="316" width="5" height="22"/>
</g>
<g id="colB">
<rect class="r" x="1517" y="891" width="43" height="22"/><text class="t" x="1521" y="907.5">tar</text>
<rect class="p" x="1517" y="866" width="43" height="22"/><text class="t" x="1521" y="882.5">e..</text>
<rect class="r" x="1517" y="841" width="43" height="22"/><text class="t" x="1521" y="857.5">s..</text>
<rect class="p" x="1517" y="816" width="43" height="22"/><text class="t" x="1521" y="832.5">v..</text>
<rect class="p" x="1517" y="791" width="43" height="22"/><text class="t" x="1521" y="807.5">_..</text>
<rect class="p" x="1517" y="766" width="43" height="22"/><text class="t" x="1521" y="782.5">g..</text>
<rect class="p" x="1517" y="741" width="43" height="22"/><text class="t" x="1521" y="757.5">_..</text>
<rect class="p" x="1517" y="716" width="43" height="22"/><text class="t" x="1521" y="732.5">_..</text>
<rect class="p" x="1517" y="691" width="43" height="22"/><text class="t" x="1521" y="707.5">b..</text>
<rect class="s" x="1517" y="666" width="43" height="22"/><text class="t" x="1521" y="682.5">_..</text>
<rect class="q" x="1517" y="641" width="43" height="22"/><text class="t" x="1521" y="657.5">s..</text>
<rect class="s" x="1517" y="616" width="43" height="22"/><text class="t" x="1521" y="632.5">s..</text>
<rect class="g" x="1517" y="591" width="43" height="22"/><text class="t" x="1522" y="607.5">-</text>
<rect class="a" x="1517" y="566" width="43" height="22"/><text class="t" x="1521" y="582.5">w..</text>
<rect class="b" x="1517" y="541" width="43" height="22"/><text class="t" x="1521" y="557.5">_..</text>
<rect class="b" x="1517" y="516" width="43" height="22"/><text class="t" x="1521" y="532.5">_..</text>
<rect class="a" x="1517" y="491" width="43" height="22"/><text class="t" x="1521" y="507.5">_..</text>
<rect class="d" x="1517" y="466" width="43" height="22"/><text class="t" x="1521" y="482.5">u..</text>
<rect class="a" x="1517" y="441" width="43" height="22"/><text class="t" x="1521" y="457.5">m..</text>
<rect class="d" x="1517" y="416" width="43" height="22"/><text class="t" x="1521" y="432.5">b..</text>
<rect class="b" x="1517" y="391" width="43" height="22"/><text class="t" x="1521" y="407.5">s..</text>
<rect class="c th" x="1517" y="366" width="3" height="22"/><rect class="b th" x="1517" y="341" width="3" height="22"/>
<rect class="c th" x="1517" y="316" width="3" height="22"/><rect class="a th" x="1517" y="291" width="3" height="22"/>
<rect x="1559" y="216" width="1" height="172" fill="#b8bec6" style="rx:0"/>
</g>
<g id="colC">
<rect class="q" x="1562" y="891" width="43" height="22"/><text class="t" x="1566" y="907.5">vm..</text>
<rect class="s" x="1562" y="866" width="43" height="22"/><text class="t" x="1566" y="882.5">en..</text>
<rect class="q" x="1562" y="841" width="43" height="22"/><text class="t" x="1566" y="857.5">sy..</text>
<rect class="s" x="1562" y="816" width="43" height="22"/><text class="t" x="1566" y="832.5">hr..</text>
<rect class="p" x="1562" y="791" width="43" height="22"/><text class="t" x="1566" y="807.5">do..</text>
<rect class="p" x="1562" y="766" width="43" height="22"/><text class="t" x="1566" y="782.5">sc..</text>
<rect class="g" x="1562" y="741" width="43" height="22"/><text class="t" x="1567" y="757.5">-</text>
<rect class="d" x="1562" y="716" width="43" height="22"/><text class="t" x="1566" y="732.5">hr..</text>
<rect class="c" x="1562" y="691" width="43" height="22"/><text class="t" x="1566" y="707.5">__..</text>
<rect class="c" x="1562" y="666" width="43" height="22"/><text class="t" x="1566" y="682.5">hr..</text>
<rect class="b" x="1562" y="641" width="43" height="22"/><text class="t" x="1566" y="657.5">xe..</text>
<rect class="d" x="1562" y="616" width="43" height="22"/><text class="t" x="1566" y="632.5">ha..</text>
<rect class="a" x="1562" y="591" width="43" height="22"/><text class="t" x="1566" y="607.5">ha..</text>
<rect class="d" x="1562" y="566" width="43" height="22"/><text class="t" x="1566" y="582.5">ge..</text>
<rect class="d" x="1562" y="541" width="28" height="22"/><rect class="c" x="1592" y="541" width="8" height="22"/>
<rect class="c th" x="1602" y="541" width="5" height="22"/><rect class="g th" x="1602" y="516" width="5" height="22"/>
<rect class="b th" x="1602" y="491" width="5" height="22"/><rect class="c th" x="1602" y="466" width="5" height="22"/>
<rect class="d th" x="1602" y="441" width="5" height="22"/><rect class="a th" x="1602" y="416" width="5" height="22"/>
<rect class="c th" x="1602" y="391" width="5" height="22"/><rect class="b th" x="1602" y="366" width="5" height="22"/>
<rect class="d th" x="1602" y="341" width="5" height="22"/><rect class="a th" x="1602" y="316" width="5" height="22"/>
</g>
<g id="colD">
<rect class="q" x="1607" y="891" width="40" height="22"/><text class="t" x="1611" y="907.5">w..</text>
<rect class="s" x="1607" y="866" width="40" height="22"/><text class="t" x="1611" y="882.5">r..</text>
<rect class="q" x="1607" y="841" width="40" height="22"/><text class="t" x="1611" y="857.5">k..</text>
<rect class="r" x="1607" y="816" width="40" height="22"/><text class="t" x="1611" y="832.5">s..</text>
<rect class="q" x="1607" y="791" width="40" height="22"/><text class="t" x="1611" y="807.5">s..</text>
<rect class="g" x="1607" y="766" width="40" height="22"/><text class="t" x="1612" y="782.5">-</text>
<rect class="d" x="1607" y="741" width="40" height="22"/><text class="t" x="1611" y="757.5">w..</text>
<rect class="d" x="1607" y="716" width="40" height="22"/><text class="t" x="1611" y="732.5">_..</text>
<rect class="a" x="1607" y="691" width="40" height="22"/><text class="t" x="1611" y="707.5">h..</text>
<rect class="b" x="1607" y="666" width="40" height="22"/><text class="t" x="1611" y="682.5">x..</text>
<rect class="a" x="1607" y="641" width="40" height="22"/><text class="t" x="1611" y="657.5">h..</text>
<rect class="d" x="1607" y="616" width="40" height="22"/><text class="t" x="1611" y="632.5">h..</text>
<rect class="b" x="1607" y="591" width="40" height="22"/><text class="t" x="1611" y="607.5">g..</text>
<rect class="d" x="1607" y="566" width="40" height="22"/><text class="t" x="1611" y="582.5">s..</text>
</g>
<g id="colE">
<rect class="q" x="1649" y="891" width="39" height="22"/><text class="t" x="1653" y="907.5">w..</text>
<rect class="s" x="1649" y="866" width="39" height="22"/><text class="t" x="1653" y="882.5">r..</text>
<rect class="q" x="1649" y="841" width="39" height="22"/><text class="t" x="1653" y="857.5">k..</text>
<rect class="s" x="1649" y="816" width="39" height="22"/><text class="t" x="1653" y="832.5">s..</text>
<rect class="s" x="1649" y="791" width="39" height="22"/><text class="t" x="1653" y="807.5">s..</text>
<rect class="g" x="1649" y="766" width="39" height="22"/><text class="t" x="1654" y="782.5">-</text>
<rect class="c" x="1649" y="741" width="39" height="22"/><text class="t" x="1653" y="757.5">w..</text>
<rect class="d" x="1649" y="716" width="39" height="22"/><text class="t" x="1653" y="732.5">_..</text>
<rect class="a" x="1649" y="691" width="39" height="22"/><text class="t" x="1653" y="707.5">h..</text>
<rect class="b" x="1649" y="666" width="39" height="22"/><text class="t" x="1653" y="682.5">x..</text>
<rect class="b" x="1649" y="641" width="39" height="22"/><text class="t" x="1653" y="657.5">h..</text>
<rect class="d" x="1649" y="616" width="39" height="22"/><text class="t" x="1653" y="632.5">h..</text>
<rect class="a" x="1649" y="591" width="39" height="22"/><text class="t" x="1653" y="607.5">g..</text>
<rect class="a" x="1649" y="566" width="18" height="22"/><rect class="c" x="1668" y="566" width="20" height="22"/>
<rect class="g" x="1668" y="541" width="20" height="22"/><rect class="d" x="1668" y="516" width="20" height="22"/>
<rect class="b" x="1668" y="491" width="20" height="22"/><rect class="a" x="1668" y="466" width="20" height="22"/>
<rect class="b" x="1668" y="441" width="20" height="22"/><rect class="d" x="1668" y="416" width="20" height="22"/>
<rect class="d" x="1668" y="391" width="20" height="22"/><rect class="c" x="1668" y="366" width="20" height="22"/>
<rect class="d" x="1668" y="341" width="20" height="22"/>
</g>
</g>
<text class="title" x="432" y="1061" font-size="42" textLength="1121" lengthAdjust="spacingAndGlyphs">Walking the chain of wakeup stacks to reach root cause</text>
</svg>
